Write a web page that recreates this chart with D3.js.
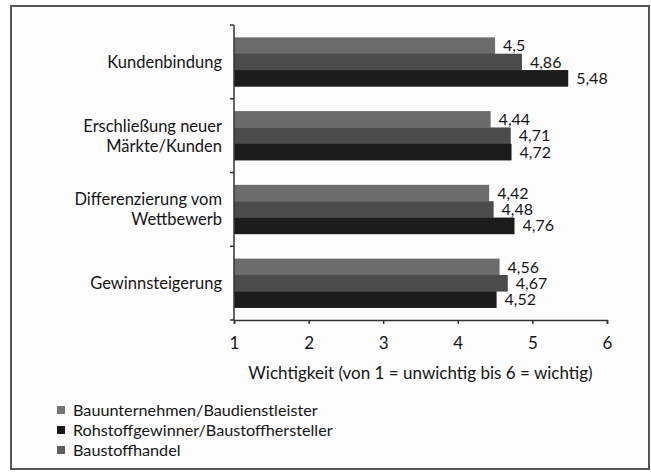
<!DOCTYPE html>
<html><head><meta charset="utf-8">
<script src="https://cdn.jsdelivr.net/npm/d3@7"></script>
<style>
html,body{margin:0;padding:0;background:#fff;}
svg{display:block;font-family:Lato,"Open Sans",sans-serif;}
</style></head>
<body><svg id="c" width="651" height="473"></svg>
<script>
const categories = [["Kundenbindung"],["Erschließung neuer","Märkte/Kunden"],["Differenzierung vom","Wettbewerb"],["Gewinnsteigerung"]];
const categoryKeys = ["Kundenbindung","Erschließung","Differenzierung","Gewinnsteigerung"];
const seriesNames = ["Bauunternehmen/Baudienstleister","Baustoffhandel","Rohstoffgewinner/Baustoffhersteller"];
const bauunternehmen = [4.5, 4.44, 4.42, 4.56];
const baustoffhandel = [4.86, 4.71, 4.48, 4.67];
const rohstoff = [5.48, 4.72, 4.76, 4.52];
const seriesValues = [bauunternehmen, baustoffhandel, rohstoff];
const seriesColors = ["#6c6c6c","#4b4b4b","#1c1c1c"];
const legendOrder = ["Bauunternehmen/Baudienstleister","Rohstoffgewinner/Baustoffhersteller","Baustoffhandel"];
const legendColors = {"Bauunternehmen/Baudienstleister":"#767676","Rohstoffgewinner/Baustoffhersteller":"#1a1a1a","Baustoffhandel":"#5e5e5e"};
const xTicks = [1,2,3,4,5,6];
const xTitle = "Wichtigkeit (von 1 = unwichtig bis 6 = wichtig)";

const svg = d3.select("#c");
svg.append("rect").attr("x",11).attr("y",6).attr("width",638).attr("height",463)
  .attr("fill","#fdfdfd").attr("stroke","#555").attr("stroke-width",2);

const x = d3.scaleLinear().domain([1,6]).range([234,607]);
const y0 = d3.scaleBand().domain(categoryKeys).range([25,320]).paddingInner(0.335).paddingOuter(0.1675);
const y1 = d3.scaleBand().domain(seriesNames).range([0,y0.bandwidth()]);

const g = svg.append("g");
categoryKeys.forEach((k,ci)=>{
  seriesNames.forEach((s,si)=>{
    const v = seriesValues[si][ci];
    g.append("rect").attr("x",x(1)).attr("y",y0(k)+y1(s))
      .attr("width",x(v)-x(1)).attr("height",y1.bandwidth()+0.3)
      .attr("fill",seriesColors[si]);
    g.append("text").attr("x",x(v)+8).attr("y",y0(k)+y1(s)+y1.bandwidth()/2)
      .attr("dy","0.36em").attr("font-size",16).attr("fill","#151515")
      .text(String(v).replace(".",","));
  });
});

// x axis
const xAxis = d3.axisBottom(x).tickValues(xTicks).tickSize(4).tickPadding(13).tickFormat(d=>d);
const gx = svg.append("g").attr("transform","translate(0,320)").call(xAxis);
gx.select(".domain").attr("stroke","#333").attr("stroke-width",1.5);
gx.selectAll(".tick line").attr("stroke","#333").attr("stroke-width",1.5);
gx.selectAll("text").attr("font-size",17).attr("fill","#151515").attr("font-family","Lato,sans-serif");

// y axis line and boundary ticks
const step = y0.step();
const r0 = y0.range()[0];
svg.append("line").attr("x1",x(1)).attr("x2",x(1)).attr("y1",r0).attr("y2",y0.range()[1])
  .attr("stroke","#333").attr("stroke-width",1.5);
d3.range(categoryKeys.length+1).forEach(i=>{
  svg.append("line").attr("x1",x(1)-4).attr("x2",x(1)).attr("y1",r0+i*step).attr("y2",r0+i*step)
    .attr("stroke","#333").attr("stroke-width",1.5);
});
categoryKeys.forEach((k,ci)=>{
  const lines = categories[ci];
  const cy = y0(k)+y0.bandwidth()/2;
  const t = svg.append("text").attr("x",x(1)-12).attr("text-anchor","end")
    .attr("font-size",16.5).attr("fill","#151515");
  lines.forEach((ln,li)=>{
    t.append("tspan").attr("x",x(1)-12)
      .attr("y",cy+(li-(lines.length-1)/2)*20).attr("dy","0.36em").text(ln);
  });
});

svg.append("text").attr("x",(x(1)+x(6))/2).attr("y",373).attr("dy","0.36em")
  .attr("text-anchor","middle").attr("font-size",17).attr("fill","#151515").text(xTitle);

const lg = svg.append("g");
legendOrder.forEach((s,i)=>{
  const yy = 410 + i*20;
  lg.append("rect").attr("x",57).attr("y",yy-4).attr("width",8).attr("height",8).attr("fill",legendColors[s]);
  lg.append("text").attr("x",73).attr("y",yy).attr("dy","0.36em").attr("font-size",16.2).attr("fill","#151515").text(s);
});
</script></body></html>
